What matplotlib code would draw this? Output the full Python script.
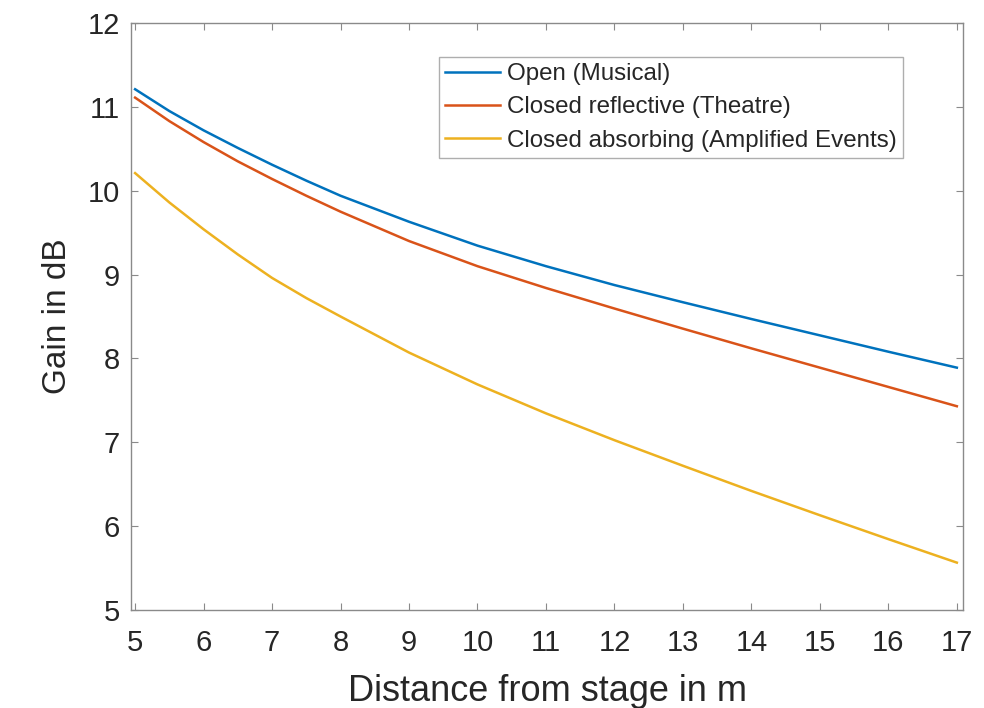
import matplotlib
matplotlib.use("Agg")
import matplotlib.pyplot as plt

# Data
distance = [5, 5.5, 6, 6.5, 7, 7.5, 8, 9, 10, 11, 12, 13, 14, 15, 16, 17]
open_musical = [11.21, 10.95, 10.72, 10.51, 10.31, 10.12, 9.94, 9.63, 9.345, 9.10,
                8.875, 8.67, 8.47, 8.275, 8.08, 7.89]
closed_reflective = [11.11, 10.83, 10.58, 10.35, 10.14, 9.94, 9.75, 9.40, 9.10, 8.84,
                     8.595, 8.355, 8.12, 7.89, 7.66, 7.43]
closed_absorbing = [10.21, 9.86, 9.54, 9.24, 8.96, 8.72, 8.50, 8.07, 7.69, 7.345,
                    7.025, 6.72, 6.42, 6.13, 5.845, 5.565]
series_labels = ["Open (Musical)", "Closed reflective (Theatre)",
                 "Closed absorbing (Amplified Events)"]
x_ticks = [5, 6, 7, 8, 9, 10, 11, 12, 13, 14, 15, 16, 17]
y_ticks = [5, 6, 7, 8, 9, 10, 11, 12]

plt.rcParams['font.family'] = ['Liberation Sans', 'DejaVu Sans']

fig = plt.figure(figsize=(9.84, 7.08), dpi=100)
ax = fig.add_axes([131/984, 98/708, 832/984, 587/708])

colors = ["#0072BD", "#D95319", "#EDB120"]
for vals, lab, c in zip([open_musical, closed_reflective, closed_absorbing], series_labels, colors):
    ax.plot(distance, vals, color=c, lw=1.8, label=lab)

ax.set_xlim(4.94, 17.09)
ax.set_ylim(5, 12)
ax.set_xticks(x_ticks)
ax.set_yticks(y_ticks)

spine_col = "#8a8a8a"
for s in ax.spines.values():
    s.set_color(spine_col)
    s.set_linewidth(1.0)
ax.tick_params(direction='in', length=5, width=0.8, color=spine_col,
               top=True, right=True, labelcolor='#262626', labelsize=21)
ax.tick_params(axis='x', pad=14)
ax.tick_params(axis='y', pad=8)

ax.set_xlabel("Distance from stage in m", fontsize=26, color='#262626')
ax.set_ylabel("Gain in dB", fontsize=24, color='#262626')
ax.xaxis.set_label_coords(0.5, -0.1085)
ax.yaxis.set_label_coords(-0.07, 0.5)

leg = ax.legend(loc='upper right', bbox_to_anchor=((903-131)/832, (610-57)/587),
                borderaxespad=0, fontsize=17.4, frameon=True, fancybox=False,
                handlelength=2.3, handletextpad=0.28, borderpad=0.25,
                labelspacing=0.47)
leg.get_frame().set_edgecolor('#9a9a9a')
leg.get_frame().set_linewidth(1.0)
for t in leg.get_texts():
    t.set_color('#262626')

fig.savefig("out.png", dpi=100, facecolor='white')
